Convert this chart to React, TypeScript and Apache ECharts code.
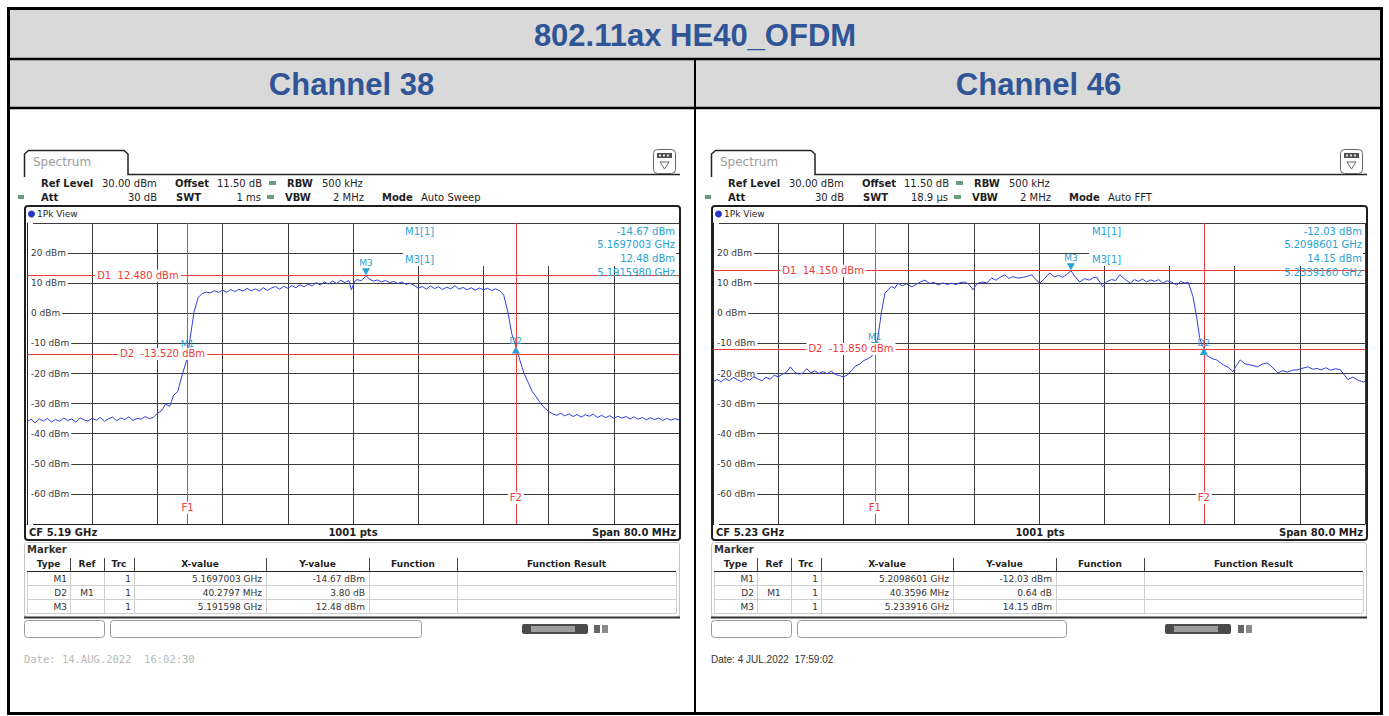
import React, { useEffect, useRef } from "react";
import * as echarts from "echarts";

// ---------- data ----------
const pageTitle = "802.11ax HE40_OFDM";
const channelNames = ["Channel 38", "Channel 46"];

const spanMHz = 80;
const refLevel = 30;
const bottomLevel = -70;
const ch38StartMHz = 5150;
const ch46StartMHz = 5190;

// [frequency MHz, level dBm]
const ch38Trace: number[][] = [
  [5150, -36.0], [5150.5, -35.2], [5151, -36.4], [5151.5, -35.0], [5152, -35.8], [5152.5, -34.9], [5153, -36.1], [5153.5, -35.3],
  [5154, -35.9], [5154.5, -34.8], [5155, -35.6], [5155.5, -35.1], [5156, -36.2], [5156.5, -34.7], [5157, -35.4], [5157.5, -35.8],
  [5158, -34.9], [5158.5, -35.5], [5159, -34.6], [5159.5, -35.9], [5160, -35.0], [5160.5, -34.5], [5161, -35.7], [5161.5, -34.8],
  [5162, -35.3], [5162.5, -34.4], [5163, -35.6], [5163.5, -34.9], [5164, -35.2], [5164.5, -34.3], [5165, -35.0], [5165.5, -34.6],
  [5166, -33.2], [5166.5, -32.4], [5167, -30.2], [5167.5, -30.9], [5168, -27.2], [5168.5, -26.0], [5169, -20.8], [5169.5, -16.4],
  [5169.7, -14.67], [5170, -8.5], [5170.5, 0.5], [5171, 5.2], [5171.5, 6.6], [5172, 7.0], [5172.5, 6.8], [5173, 7.5],
  [5173.5, 6.9], [5174, 7.7], [5174.5, 7.0], [5175, 7.9], [5175.5, 7.2], [5176, 8.0], [5176.5, 7.4], [5177, 8.3],
  [5177.5, 7.5], [5178, 8.1], [5178.5, 7.4], [5179, 8.5], [5179.5, 7.6], [5180, 8.4], [5180.5, 8.9], [5181, 8.0],
  [5181.5, 9.0], [5182, 8.3], [5182.5, 9.2], [5183, 8.5], [5183.5, 9.5], [5184, 8.8], [5184.5, 9.7], [5185, 9.1],
  [5185.5, 10.2], [5186, 9.4], [5186.5, 10.4], [5187, 9.7], [5187.5, 10.7], [5188, 9.9], [5188.5, 11.0], [5189, 10.2],
  [5189.5, 10.9], [5189.8, 7.8], [5190.2, 10.6], [5190.5, 11.2], [5191, 10.8], [5191.6, 12.48], [5192, 11.4], [5192.5, 10.7],
  [5193, 11.1], [5193.5, 10.4], [5194, 10.9], [5194.5, 10.1], [5195, 10.6], [5195.5, 9.9], [5196, 10.4], [5196.5, 9.6],
  [5197, 10.0], [5197.5, 9.3], [5198, 8.3], [5198.5, 8.9], [5199, 8.0], [5199.5, 9.1], [5200, 8.2], [5200.5, 8.8],
  [5201, 7.9], [5201.5, 8.7], [5202, 8.1], [5202.5, 9.2], [5203, 8.0], [5203.5, 8.6], [5204, 7.8], [5204.5, 8.5],
  [5205, 7.7], [5205.5, 8.4], [5206, 7.8], [5206.5, 8.3], [5207, 7.6], [5207.5, 8.1], [5208, 7.5], [5208.5, 6.0],
  [5209, 0.5], [5209.5, -7.0], [5210, -11.2], [5210.5, -15.8], [5211, -20.0], [5211.5, -23.0], [5212, -26.0], [5212.5, -27.8],
  [5213, -29.9], [5213.5, -31.4], [5214, -32.6], [5214.5, -33.4], [5215, -33.9], [5215.5, -33.2], [5216, -34.1], [5216.5, -33.4],
  [5217, -34.3], [5217.5, -33.6], [5218, -34.5], [5218.5, -33.7], [5219, -34.2], [5219.5, -33.5], [5220, -34.6], [5220.5, -33.9],
  [5221, -34.7], [5221.5, -34.0], [5222, -34.9], [5222.5, -34.2], [5223, -34.8], [5223.5, -34.3], [5224, -35.1], [5224.5, -34.4],
  [5225, -35.2], [5225.5, -34.6], [5226, -35.4], [5226.5, -34.7], [5227, -35.3], [5227.5, -34.8], [5228, -35.6], [5228.5, -34.9],
  [5229, -35.5], [5229.5, -35.0], [5230, -35.4],
];

const ch46Trace: number[][] = [
  [5190, -22.8], [5190.5, -22.0], [5191, -22.7], [5191.5, -21.7], [5192, -22.4], [5192.5, -21.3], [5193, -22.1], [5193.5, -22.7],
  [5194, -21.6], [5194.5, -22.2], [5195, -21.1], [5195.5, -21.8], [5196, -22.4], [5196.5, -21.3], [5197, -21.9], [5197.5, -20.6],
  [5198, -21.1], [5198.5, -20.3], [5199, -19.6], [5199.5, -17.8], [5200, -19.5], [5200.5, -20.2], [5201, -19.9], [5201.5, -18.4],
  [5202, -19.8], [5202.5, -19.1], [5203, -20.0], [5203.5, -19.4], [5204, -20.1], [5204.5, -19.2], [5205, -20.3], [5205.5, -20.7],
  [5206, -21.1], [5206.5, -20.5], [5207, -19.0], [5207.5, -17.5], [5208, -16.9], [5208.5, -15.7], [5209, -15.1], [5209.5, -14.2],
  [5209.86, -12.03], [5210.25, -7.7], [5210.7, 1.0], [5211.1, 6.6], [5211.5, 7.9], [5211.9, 8.9], [5212.3, 8.3], [5212.7, 10.0],
  [5213.2, 9.1], [5213.7, 9.8], [5214.4, 8.8], [5215, 9.7], [5215.5, 10.5], [5216, 11.0], [5216.6, 9.9], [5217.1, 10.3],
  [5217.6, 9.4], [5218.2, 10.1], [5218.7, 9.6], [5219.3, 10.0], [5219.8, 9.5], [5220.3, 10.2], [5220.9, 10.4], [5221.4, 9.6],
  [5221.9, 7.8], [5222.4, 9.9], [5223, 10.4], [5223.6, 10.1], [5224.2, 11.7], [5224.7, 11.0], [5225.2, 11.9], [5225.8, 12.8],
  [5226.3, 11.6], [5226.8, 12.2], [5227.4, 11.7], [5228, 11.9], [5228.6, 12.3], [5229.1, 12.8], [5229.9, 10.4], [5230.1, 10.0],
  [5230.7, 11.6], [5231.3, 13.4], [5231.9, 12.1], [5232.4, 12.6], [5232.9, 12.0], [5233.4, 12.9], [5233.916, 14.15], [5234.4, 12.3],
  [5235, 10.4], [5235.6, 11.5], [5236.2, 11.0], [5236.6, 11.8], [5237.1, 12.0], [5237.8, 8.8], [5238.3, 10.5], [5238.9, 11.2],
  [5239.4, 10.9], [5239.9, 12.8], [5240.5, 11.4], [5241.2, 10.0], [5241.7, 11.2], [5242.2, 10.6], [5242.7, 11.4], [5243.2, 10.4],
  [5243.7, 11.1], [5244.2, 10.6], [5244.7, 11.2], [5245.2, 10.0], [5245.7, 10.8], [5246.3, 10.3], [5246.9, 9.4], [5247.4, 10.6],
  [5247.9, 10.0], [5248.3, 10.4], [5248.9, 5.5], [5249.4, -2.2], [5249.7, -8.0], [5250.0, -10.5], [5250.22, -11.39], [5250.6, -14.0],
  [5251.2, -15.0], [5251.8, -15.5], [5252.6, -17.1], [5253.2, -17.9], [5253.8, -19.4], [5254.2, -17.4], [5254.7, -15.5], [5255.3, -16.8],
  [5256, -17.2], [5256.8, -17.8], [5257.4, -16.9], [5258, -16.5], [5258.6, -17.8], [5259.3, -19.8], [5259.9, -19.1], [5260.5, -19.5],
  [5261.1, -18.9], [5261.7, -18.8], [5262.4, -18.2], [5263, -17.8], [5263.6, -18.6], [5264.1, -18.3], [5264.6, -18.8], [5265.2, -18.1],
  [5265.8, -18.9], [5266.4, -18.4], [5267, -18.8], [5267.5, -20.6], [5267.9, -22.0], [5268.5, -21.2], [5269.2, -22.3], [5269.8, -22.8],
  [5270, -22.6],
];

// markers: [frequency MHz, level dBm]
const ch38M1 = [5169.7003, -14.67];
const ch38D2 = [5209.98, -10.87];
const ch38M3 = [5191.598, 12.48];
const ch38DLevels = [12.48, -13.52];
const ch46M1 = [5209.8601, -12.03];
const ch46D2 = [5250.2197, -11.39];
const ch46M3 = [5233.916, 14.15];
const ch46DLevels = [14.15, -11.85];

const ch38Settings = ["30.00 dBm", "11.50 dB", "500 kHz", "30 dB", "1 ms", "2 MHz", "Auto Sweep"];
const ch46Settings = ["30.00 dBm", "11.50 dB", "500 kHz", "30 dB", "18.9 µs", "2 MHz", "Auto FFT"];
const ch38MarkerInfo = ["-14.67 dBm", "5.1697003 GHz", "12.48 dBm", "5.1915980 GHz"];
const ch46MarkerInfo = ["-12.03 dBm", "5.2098601 GHz", "14.15 dBm", "5.2339160 GHz"];
const tableHeader = ["Type", "Ref", "Trc", "X-value", "Y-value", "Function", "Function Result"];
const ch38Rows = [
  ["M1", "", "1", "5.1697003 GHz", "-14.67 dBm"],
  ["D2", "M1", "1", "40.2797 MHz", "3.80 dB"],
  ["M3", "", "1", "5.191598 GHz", "12.48 dBm"],
];
const ch46Rows = [
  ["M1", "", "1", "5.2098601 GHz", "-12.03 dBm"],
  ["D2", "M1", "1", "40.3596 MHz", "0.64 dB"],
  ["M3", "", "1", "5.233916 GHz", "14.15 dBm"],
];
const ch38Footer = ["CF 5.19 GHz", "1001 pts", "Span 80.0 MHz"];
const ch46Footer = ["CF 5.23 GHz", "1001 pts", "Span 80.0 MHz"];
const ch38Date = "Date: 14.AUG.2022  16:02:30";
const ch46Date = "Date: 4 JUL.2022  17:59:02";

// ---------- layout ----------
const panels = [
  {
    o: 0, gl: 27, start: ch38StartMHz, trace: ch38Trace, m1: ch38M1, d2: ch38D2, m3: ch38M3, dl: ch38DLevels,
    settings: ch38Settings, info: ch38MarkerInfo, rows: ch38Rows, footer: ch38Footer, date: ch38Date,
    dateFont: '10.5px "DejaVu Sans Mono"', dateFill: "#b8b8b8", d1At: 8.3, d2At: 11.1,
    infoBox: 403, box2: [110, 311], bar: 522, icon: 594,
  },
  {
    o: 687, gl: 713, start: ch46StartMHz, trace: ch46Trace, m1: ch46M1, d2: ch46D2, m3: ch46M3, dl: ch46DLevels,
    settings: ch46Settings, info: ch46MarkerInfo, rows: ch46Rows, footer: ch46Footer, date: ch46Date,
    dateFont: '10px "Liberation Sans"', dateFill: "#333", d1At: 8.2, d2At: 11.4,
    infoBox: 1089, box2: [797, 269], bar: 1165, icon: 1238,
  },
];

const FF = '"DejaVu Sans"';
const F10 = `10px ${FF}`;
const F10B = `bold 10px ${FF}`;
const F9 = `9px ${FF}`;
const F9B = `bold 9px ${FF}`;
const RED = "#ef3b37";
const CYAN = "#27a3d3";
const TRACE = "#2f3fdc";
const GRIDC = "#3c3c3c";
const BLUE_TITLE = "#2f5597";
const TITLE_FONT = 'bold 31px "Liberation Sans"';

const txt = (x: number, y: number, text: string, o: any = {}) => ({
  type: "text", x, y, z: o.z ?? 10, silent: true,
  style: {
    text, fill: o.fill ?? "#1e1e1e", font: o.font ?? F10,
    align: o.align ?? "left", textAlign: o.align ?? "left",
    verticalAlign: "middle", textVerticalAlign: "middle",
  },
});
const rect = (x: number, y: number, w: number, h: number, style: any, z = 6, r = 0) => ({
  type: "rect", z, silent: true, shape: { x, y, width: w, height: h, r }, style,
});
const ln = (x1: number, y1: number, x2: number, y2: number, stroke: string, lw = 1, z = 6) => ({
  type: "line", z, silent: true, shape: { x1, y1, x2, y2 }, style: { stroke, lineWidth: lw },
});

function panelGraphics(p: any) {
  const o = p.o;
  const g: any[] = [];
  // tab and header line
  g.push({
    type: "polyline", z: 6, silent: true,
    shape: { points: [[24.5 + o, 177], [24.5 + o, 154], [28.5 + o, 150.5], [124 + o, 150.5], [128 + o, 154], [128 + o, 174.5], [680 + o, 174.5]] },
    style: { stroke: "#222", lineWidth: 1.5, fill: "none" },
  });
  g.push(txt(33 + o, 162, "Spectrum", { font: `12px ${FF}`, fill: "#9c9c9c" }));
  g.push(rect(653.5 + o, 149.5, 22, 24, { fill: "#fff", stroke: "#666", lineWidth: 1 }, 6, 4));
  g.push(rect(657 + o, 153, 15, 5, { fill: "#505050" }, 7));
  g.push(rect(659 + o, 154.5, 2, 2, { fill: "#ddd" }, 8));
  g.push(rect(663 + o, 154.5, 2, 2, { fill: "#ddd" }, 8));
  g.push(rect(667 + o, 154.5, 2, 2, { fill: "#ddd" }, 8));
  g.push({
    type: "polygon", z: 7, silent: true,
    shape: { points: [[660 + o, 162], [669 + o, 162], [664.5 + o, 169]] },
    style: { fill: "none", stroke: "#666", lineWidth: 1 },
  });
  // settings
  const s = p.settings;
  g.push(txt(41 + o, 183, "Ref Level", { font: F10B }));
  g.push(txt(102 + o, 183, s[0]));
  g.push(txt(175 + o, 183, "Offset", { font: F10B }));
  g.push(txt(217 + o, 183, s[1]));
  g.push(rect(269 + o, 181, 7, 4, { fill: "#6c9c7e" }));
  g.push(txt(287 + o, 183, "RBW", { font: F10B }));
  g.push(txt(322 + o, 183, s[2]));
  g.push(rect(18 + o, 195, 6, 4, { fill: "#6c9c7e" }));
  g.push(txt(41 + o, 197, "Att", { font: F10B }));
  g.push(txt(157 + o, 197, s[3], { align: "right" }));
  g.push(txt(176 + o, 197, "SWT", { font: F10B }));
  g.push(txt(261 + o, 197, s[4], { align: "right" }));
  g.push(rect(267 + o, 195, 7, 4, { fill: "#6c9c7e" }));
  g.push(txt(285 + o, 197, "VBW", { font: F10B }));
  g.push(txt(364 + o, 197, s[5], { align: "right" }));
  g.push(txt(382 + o, 197, "Mode", { font: F10B }));
  g.push(txt(421 + o, 197, s[6]));
  // frame
  g.push(rect(25 + o, 206, 655, 334, { fill: "none", stroke: "#1f1f1f", lineWidth: 2 }, 6, 3));
  g.push({ type: "circle", z: 7, silent: true, shape: { cx: 31.5 + o, cy: 214, r: 3.5 }, style: { fill: "#2535c8" } });
  g.push(txt(37 + o, 214, "1Pk View", { font: F9 }));
  // marker info box
  g.push(rect(p.infoBox, 224, 676 + o - p.infoBox, 42, { fill: "#fff" }, 1));
  const ix = 405 + o;
  g.push(txt(ix, 231, "M1[1]", { fill: CYAN }));
  g.push(txt(675 + o, 231, p.info[0], { fill: CYAN, align: "right" }));
  g.push(txt(675 + o, 244, p.info[1], { fill: CYAN, align: "right" }));
  g.push(txt(ix, 259, "M3[1]", { fill: CYAN }));
  g.push(txt(675 + o, 258, p.info[2], { fill: CYAN, align: "right" }));
  g.push(txt(675 + o, 272, p.info[3], { fill: CYAN, align: "right" }));
  // footer of plot
  g.push(txt(29 + o, 532, p.footer[0], { font: F10B }));
  g.push(txt(353 + o, 532, p.footer[1], { font: F10B, align: "center" }));
  g.push(txt(676 + o, 532, p.footer[2], { font: F10B, align: "right" }));
  // marker table
  g.push(rect(24.5 + o, 542.5, 655, 75, { fill: "none", stroke: "#c4c4c4", lineWidth: 1 }, 6, 3));
  g.push(ln(24 + o, 617.5, 680 + o, 617.5, "#333", 2));
  g.push(txt(27 + o, 549.5, "Marker", { font: F10B, fill: "#333" }));
  const cols = [27, 70, 104, 134, 266, 369, 457, 676].map((x) => x + o);
  tableHeader.forEach((h, i) => g.push(txt((cols[i] + cols[i + 1]) / 2, 564, h, { font: F9B, align: "center" })));
  for (let i = 1; i < cols.length - 1; i++) g.push(ln(cols[i] + 0.5, 558, cols[i] + 0.5, 571, "#444"));
  g.push(ln(27 + o, 571.5, 676 + o, 571.5, "#222", 1.2));
  [585.5, 599.5, 613.5].forEach((y) => g.push(ln(27 + o, y, 676 + o, y, "#cfcfcf")));
  cols.forEach((x) => g.push(ln(x + 0.5, 572, x + 0.5, 613.5, "#cfcfcf")));
  p.rows.forEach((r: string[], i: number) => {
    const y = 578.5 + i * 14;
    g.push(txt(cols[1] - 3, y, r[0], { font: F9, fill: "#333", align: "right" }));
    g.push(txt((cols[1] + cols[2]) / 2, y, r[1], { font: F9, fill: "#333", align: "center" }));
    g.push(txt(cols[3] - 3, y, r[2], { font: F9, fill: "#333", align: "right" }));
    g.push(txt(cols[4] - 4, y, r[3], { font: F9, fill: "#333", align: "right" }));
    g.push(txt(cols[5] - 4, y, r[4], { font: F9, fill: "#333", align: "right" }));
  });
  // bottom boxes
  g.push(rect(24.5 + o, 620.5, 80, 17, { fill: "#fff", stroke: "#999", lineWidth: 1 }, 6, 3));
  g.push(rect(p.box2[0] + 0.5, 620.5, p.box2[1], 17, { fill: "#fff", stroke: "#999", lineWidth: 1 }, 6, 3));
  g.push(rect(p.bar, 624, 66, 10, { fill: "#4a4a4a" }, 6, 2));
  g.push(rect(p.bar + 9, 626, 44, 6, { fill: "#9d9d9d" }, 7));
  g.push(rect(p.icon, 625, 6, 8, { fill: "#666" }));
  g.push(rect(p.icon + 8, 625, 6, 8, { fill: "#8a8a8a" }));
  // date
  g.push(txt(24 + o, 659, p.date, { font: p.dateFont, fill: p.dateFill }));
  return g;
}

function buildOption() {
  const tableG: any[] = [
    rect(8, 8, 1374, 100, { fill: "#d9d9d9" }, 0),
    rect(8.5, 8.5, 1373, 705, { fill: "none", stroke: "#000", lineWidth: 3 }, 9),
    ln(8, 59, 1382, 59, "#000", 2.5, 9),
    ln(8, 108, 1382, 108, "#000", 2.5, 9),
    ln(695, 59, 695, 715, "#000", 2, 9),
    txt(695, 35, pageTitle, { font: TITLE_FONT, fill: BLUE_TITLE, align: "center" }),
    txt(351.5, 84, channelNames[0], { font: TITLE_FONT, fill: BLUE_TITLE, align: "center" }),
    txt(1038.5, 84, channelNames[1], { font: TITLE_FONT, fill: BLUE_TITLE, align: "center" }),
  ];
  const graphics = tableG.concat(...panels.map(panelGraphics));

  const downTri = "path://M0 0L8 0L4 7Z";
  const upTri = "path://M4 0L8 7L0 7Z";
  const mlabel = (t: string) => ({ show: true, position: "top", distance: 1, formatter: t, color: CYAN, fontSize: 9, fontFamily: "DejaVu Sans" });
  const rlabel = (t: string, pos: string) => ({
    show: true, position: pos, distance: 0, formatter: t, color: RED, fontSize: 10, fontFamily: "DejaVu Sans",
    backgroundColor: "#fff", padding: [1, 2],
  });
  const hidden = { color: "rgba(0,0,0,0)" };

  return {
    animation: false,
    backgroundColor: "#ffffff",
    grid: panels.map((p) => ({ left: p.gl, top: 223, width: 652, height: 301, containLabel: false })),
    xAxis: panels.map((p, i) => ({
      gridIndex: i, type: "value", min: 0, max: spanMHz, interval: 8,
      axisLabel: { show: false }, axisTick: { show: false },
      axisLine: { show: true, onZero: false, lineStyle: { color: "#222", width: 1 } },
      splitLine: { show: true, lineStyle: { color: GRIDC, width: 1 } },
    })),
    yAxis: panels.map((p, i) => ({
      gridIndex: i, type: "value", min: bottomLevel, max: refLevel, interval: 10,
      axisTick: { show: false },
      axisLine: { show: true, lineStyle: { color: "#222", width: 1 } },
      splitLine: { show: true, lineStyle: { color: GRIDC, width: 1 } },
      axisLabel: {
        inside: true, margin: 1, fontSize: 9, fontFamily: "DejaVu Sans", color: "#3a3a3a",
        backgroundColor: "#fff", padding: [1, 2, 1, 3],
        formatter: (v: number) => (v === refLevel || v === bottomLevel ? "" : `${v} dBm`),
      },
    })),
    series: panels.map((p, i) => {
      const st = p.start;
      return {
        type: "line", xAxisIndex: i, yAxisIndex: i, showSymbol: false, symbol: "none", animation: false,
        data: p.trace.map(([f, v]) => [f - st, v]),
        lineStyle: { color: TRACE, width: 1 }, itemStyle: { color: TRACE },
        markLine: {
          silent: true, animation: false, symbol: ["none", "none"], label: { show: false },
          lineStyle: { color: RED, width: 1, type: "solid" },
          emphasis: { disabled: true },
          data: [
            { xAxis: p.m1[0] - st }, { xAxis: p.d2[0] - st },
            { yAxis: p.dl[0] }, { yAxis: p.dl[1] },
          ],
        },
        markPoint: {
          silent: true, animation: false,
          data: [
            { coord: [p.m1[0] - st, p.m1[1]], symbol: downTri, symbolSize: [8, 7], symbolOffset: [0, -4], itemStyle: { color: CYAN }, label: mlabel("M1") },
            { coord: [p.m3[0] - st, p.m3[1]], symbol: downTri, symbolSize: [8, 7], symbolOffset: [0, -4], itemStyle: { color: CYAN }, label: mlabel("M3") },
            { coord: [p.d2[0] - st, p.d2[1]], symbol: upTri, symbolSize: [8, 7], symbolOffset: [0, 4], itemStyle: { color: CYAN }, label: mlabel("D2") },
            { coord: [p.d1At, p.dl[0]], symbol: "rect", symbolSize: 1, itemStyle: hidden, label: rlabel(`D1  ${p.dl[0].toFixed(3)} dBm`, "right") },
            { coord: [p.d2At, p.dl[1]], symbol: "rect", symbolSize: 1, itemStyle: hidden, label: rlabel(`D2  ${p.dl[1].toFixed(3)} dBm`, "right") },
            { coord: [p.m1[0] - st, -64.6], symbol: "rect", symbolSize: 1, itemStyle: hidden, label: rlabel("F1", "inside") },
            { coord: [p.d2[0] - st, -61.3], symbol: "rect", symbolSize: 1, itemStyle: hidden, label: rlabel("F2", "inside") },
          ],
        },
      };
    }),
    graphic: { elements: graphics },
  };
}

export default function App() {
  const ref = useRef<HTMLDivElement>(null);
  useEffect(() => {
    const chart = echarts.init(ref.current!, null, { renderer: "svg" });
    chart.setOption(buildOption() as any);
    return () => chart.dispose();
  }, []);
  return (
    <div
      ref={ref}
      style={{ position: "fixed", left: 0, top: 0, width: 1389, height: 716, background: "#fff" }}
    />
  );
}
